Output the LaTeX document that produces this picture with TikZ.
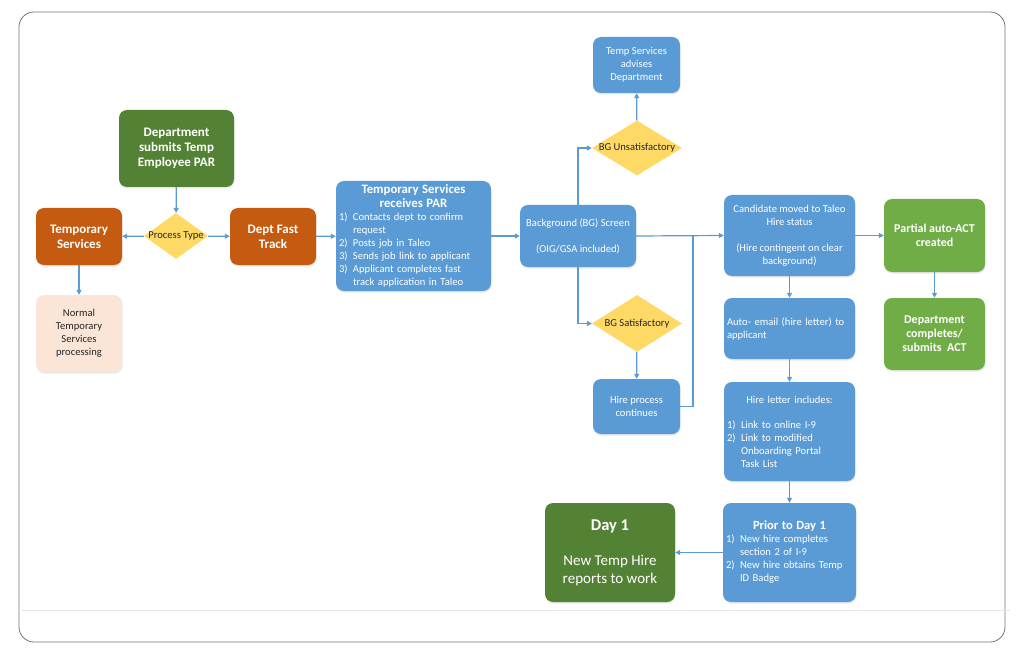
\documentclass[tikz,border=0pt]{standalone}
\usepackage{fontspec}
\setmainfont{Carlito}
\usetikzlibrary{arrows.meta,shapes.geometric,shadows}
\definecolor{dgreen}{HTML}{548235}
\definecolor{lgreen}{HTML}{70AD47}
\definecolor{orng}{HTML}{C55A11}
\definecolor{blu}{HTML}{5B9BD5}
\definecolor{gold}{HTML}{FFD966}
\definecolor{peach}{HTML}{FBE5D6}
\definecolor{lnk}{HTML}{5B9BD5}
\newcommand\nm[1]{\makebox[14pt][l]{#1}}
\newcommand\hi{\hspace*{14pt}}
\begin{document}
\begin{tikzpicture}[x=1pt,y=-1pt,
 box/.style={rectangle, rounded corners=8pt, inner sep=3pt, text=white, align=center,
   font=\fontsize{10.6}{13}\selectfont,
   drop shadow={opacity=0.18, shadow xshift=0.5pt, shadow yshift=-1.5pt}},
 bluebox/.style={box, fill=blu},
 dgbox/.style={box, fill=dgreen},
 lgbox/.style={box, fill=lgreen},
 orbox/.style={box, fill=orng, font=\bfseries\fontsize{13}{15}\selectfont},
 pebox/.style={box, fill=peach, text=black!85, font=\fontsize{10.6}{13}\selectfont},
 dia/.style={diamond, fill=gold, inner sep=0pt, text=black!85, font=\fontsize{10.6}{12}\selectfont},
 conn/.style={draw=lnk, line width=1.2pt, -{Triangle[length=5pt,width=5pt]}},
 line/.style={draw=lnk, line width=1.2pt}
]
\useasboundingbox (0,0) rectangle (1024,652);
\draw[black!55, line width=0.8pt, rounded corners=15pt] (19,12) rectangle (1005,642);
\draw[black!10, line width=0.6pt] (22,610) -- (1010,610);

% left part
\node[dgbox, minimum width=115pt, minimum height=77pt, font=\bfseries\fontsize{13}{15}\selectfont]
  (dept) at (176.5,148.5) {Department\\submits Temp\\Employee PAR};
\node[orbox, minimum width=86pt, minimum height=57pt] (ts) at (79,236.5) {Temporary\\Services};
\node[dia, minimum width=64pt, minimum height=46pt] (pt) at (176,236) {\makebox[0pt]{Process Type}};
\node[orbox, minimum width=86pt, minimum height=57pt] (dft) at (273,236.5) {Dept Fast\\Track};
\node[pebox, minimum width=86pt, minimum height=77pt] (norm) at (79,333.5) {Normal\\Temporary\\Services\\processing};

\node[bluebox, minimum width=155pt, minimum height=110pt, text width=149pt] (tsr) at (413.5,236)
  {{\centering\bfseries\fontsize{12.8}{14}\selectfont Temporary Services\\receives PAR\par}
   \raggedright
   \nm{1)}Contacts dept to confirm\\
   \hi request\\
   \nm{2)}Posts job in Taleo\\
   \nm{3)}Sends job link to applicant\\
   \nm{3)}Applicant completes fast\\
   \hi track application in Taleo\par};

% middle
\node[bluebox, minimum width=116pt, minimum height=62pt] (bg) at (578,236)
  {Background (BG) Screen\\[13pt](OIG/GSA included)};
\node[bluebox, minimum width=87pt, minimum height=56pt] (adv) at (636.5,65)
  {Temp Services\\advises\\Department};
\node[dia, minimum width=90pt, minimum height=55pt] (bgu) at (637,148) {\makebox[0pt]{BG Unsatisfactory}};
\node[dia, minimum width=90pt, minimum height=57pt] (bgs) at (637,323.5) {\makebox[0pt]{BG Satisfactory}};
\node[bluebox, minimum width=87pt, minimum height=55pt] (hpc) at (636.5,406.5)
  {Hire process\\continues};
\coordinate (j) at (693,236);

% right column
\node[bluebox, minimum width=131pt, minimum height=81pt] (cand) at (789.5,235.5)
  {Candidate moved to Taleo\\Hire status\\[13pt](Hire contingent on clear\\background)};
\node[bluebox, minimum width=131pt, minimum height=61pt, text width=125pt] (auto) at (789.5,328.5)
  {\raggedright Auto- email (hire letter) to\\applicant\par};
\node[bluebox, minimum width=131pt, minimum height=99pt, text width=125pt] (hl) at (789.5,431.5)
  {{\centering Hire letter includes:\par}
   \vspace{12pt}\raggedright
   \nm{1)}Link to online I-9\\
   \nm{2)}Link to modified\\
   \hi Onboarding Portal\\
   \hi Task List\par};
\node[bluebox, minimum width=131pt, minimum height=99pt, text width=127pt] (prior) at (789.5,552.5)
  {{\centering\bfseries\fontsize{12.5}{14}\selectfont Prior to Day 1\par}
   \raggedright
   \nm{1)}New hire completes\\
   \hi section 2 of I-9\\
   \nm{2)}New hire obtains Temp\\
   \hi ID Badge\par};
\node[dgbox, minimum width=130pt, minimum height=99pt, font=\fontsize{15}{18}\selectfont] (day) at (610,552.5)
  {{\bfseries\fontsize{16.5}{18}\selectfont Day 1}\\[17pt]New Temp Hire\\reports to work};
\node[lgbox, minimum width=101pt, minimum height=73pt, font=\bfseries\fontsize{12}{13.5}\selectfont] (part) at (934.5,235.5)
  {Partial auto-ACT\\created};
\node[lgbox, minimum width=101pt, minimum height=72pt, font=\bfseries\fontsize{12}{14}\selectfont] (dca) at (934.5,334)
  {Department\\completes/\\submits\ \ ACT};

% connectors
\draw[conn] (dept) -- (pt);
\draw[conn] (pt) -- (ts);
\draw[conn] (pt) -- (dft);
\draw[conn] (ts) -- (norm);
\draw[conn] (dft) -- (tsr);
\draw[conn] (tsr) -- (bg);
\draw[conn] (bg.north) |- (bgu.west);
\draw[conn] (bg.south) |- (bgs.west);
\draw[conn] (bgu) -- (adv);
\draw[conn] (bgs) -- (hpc);
\draw[conn] (bg.east) -- (cand.west);
\draw[line] (hpc.east) -| (j);
\draw[conn] (cand) -- (part);
\draw[conn] (part) -- (dca);
\draw[conn] (cand) -- (auto);
\draw[conn] (auto) -- (hl);
\draw[conn] (hl) -- (prior);
\draw[conn] (prior) -- (day);
\end{tikzpicture}
\end{document}
